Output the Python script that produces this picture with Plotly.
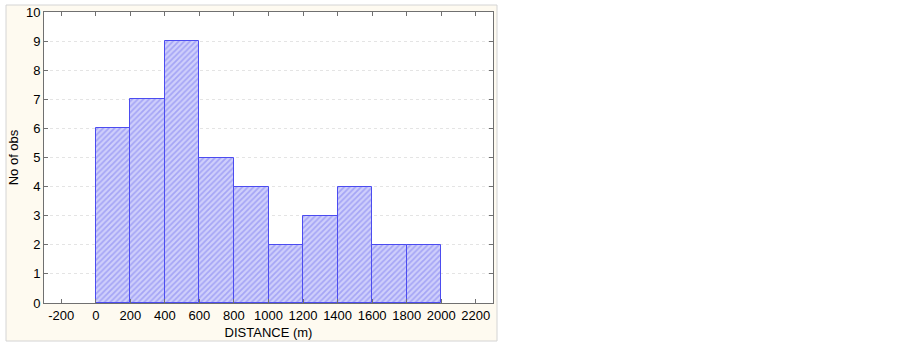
import plotly.graph_objects as go

bin_centers = [100, 300, 500, 700, 900, 1100, 1300, 1500, 1700, 1900]
counts = [6, 7, 9, 5, 4, 2, 3, 4, 2, 2]
x_ticks = [-200, 0, 200, 400, 600, 800, 1000, 1200, 1400, 1600, 1800, 2000, 2200]
x_tick_labels = ["-200", "0", "200", "400", "600", "800", "1000", "1200", "1400",
                 "1600", "1800", "2000", "2200"]
y_ticks = list(range(0, 11))

fig = go.Figure()
fig.add_trace(go.Bar(
    x=bin_centers, y=counts, width=200,
    marker=dict(
        color="#c0c0fa",
        line=dict(color="#4c4cf0", width=1),
        pattern=dict(shape="/", fgcolor="#7c7cf0", bgcolor="#cfcffb", size=4, solidity=0.45),
    ),
    showlegend=False,
    hoverinfo="skip",
))

L, R, T, B = 44, 410, 12, 44
W, H = 903, 347
pw = W - L - R
ph = H - T - B

# cream panel behind the chart
fig.add_shape(type="rect", xref="paper", yref="paper",
              x0=(6 - L) / pw, x1=(497 - L) / pw,
              y0=-(341 - (H - B)) / ph, y1=((H - B) - 5) / ph,
              fillcolor="#fefaf0", line=dict(color="#d4d4d4", width=1), layer="below")
# white plotting area
fig.add_shape(type="rect", xref="paper", yref="paper", x0=0, x1=1, y0=0, y1=1,
              fillcolor="white", line=dict(width=0), layer="below")

font = dict(family="Liberation Sans, Arial", size=13, color="#000000")
axis_common = dict(showline=True, linecolor="#707070", linewidth=1, mirror="ticks",
                   ticks="inside", ticklen=4, tickcolor="#707070", zeroline=False,
                   tickfont=font)

fig.update_xaxes(range=[-300, 2300], tickvals=x_ticks, ticktext=x_tick_labels, showgrid=False,
                 title=dict(text="DISTANCE (m)", standoff=6, font=font),
                 **axis_common)
fig.update_yaxes(range=[0, 10], tickvals=y_ticks, showgrid=True, gridcolor="#e4e4e4",
                 griddash="dot", gridwidth=1,
                 title=dict(text="No of obs", standoff=4, font=font),
                 **axis_common)

fig.update_layout(width=W, height=H, margin=dict(l=L, r=R, t=T, b=B, autoexpand=False),
                  paper_bgcolor="white", plot_bgcolor="white", bargap=0)

fig.write_html("out.html", config={"displayModeBar": False},
               post_script="document.body.style.margin='0px';")
